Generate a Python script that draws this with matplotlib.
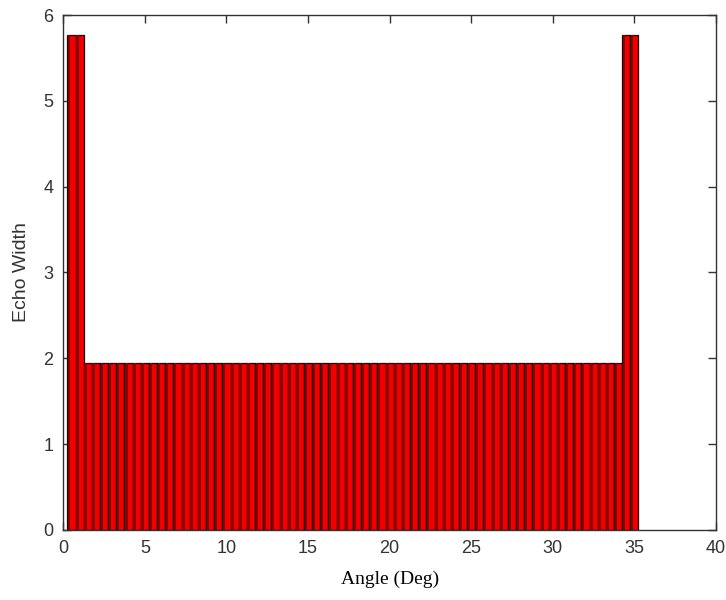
import numpy as np
import matplotlib
matplotlib.use("Agg")
import matplotlib.pyplot as plt

# Echo width for each steering angle (0.5 deg steps)
angles = np.arange(1, 71) * 0.5
echo_width = [5.77, 5.77] + [1.94] * 66 + [5.77, 5.77]

bar_w = 0.5

fig = plt.figure(figsize=(7.26, 6.0), dpi=100)
ax = fig.add_axes([0.0872, 0.1167, 0.8990, 0.8583])

ax.bar(angles, echo_width, width=bar_w, color="#f20000",
       edgecolor="#1a0000", linewidth=0.9, zorder=2)
# darker band on the left side of each bar for the shaded look
ax.bar(angles - bar_w * 0.28, echo_width, width=bar_w * 0.3,
       color="#8a0000", linewidth=0, zorder=3)

ax.set_xlim(0, 40)
ax.set_ylim(0, 6)
ax.set_xticks(np.arange(0, 41, 5))
ax.set_yticks(np.arange(0, 7, 1))

ax.tick_params(direction="in", length=6, width=1, top=True, right=True,
               labelsize=13, colors="#333333", pad=7)
for lbl in ax.get_xticklabels() + ax.get_yticklabels():
    lbl.set_family("Liberation Sans")
for sp in ax.spines.values():
    sp.set_color("#333333")
    sp.set_linewidth(1)
    sp.set_zorder(4)

ax.set_xlabel("Angle (Deg)", fontsize=14, family="Liberation Serif",
              labelpad=10)
ax.set_ylabel("Echo Width", fontsize=14, family="Liberation Sans",
              labelpad=10, color="#333333")

fig.savefig("out.png", dpi=100)
